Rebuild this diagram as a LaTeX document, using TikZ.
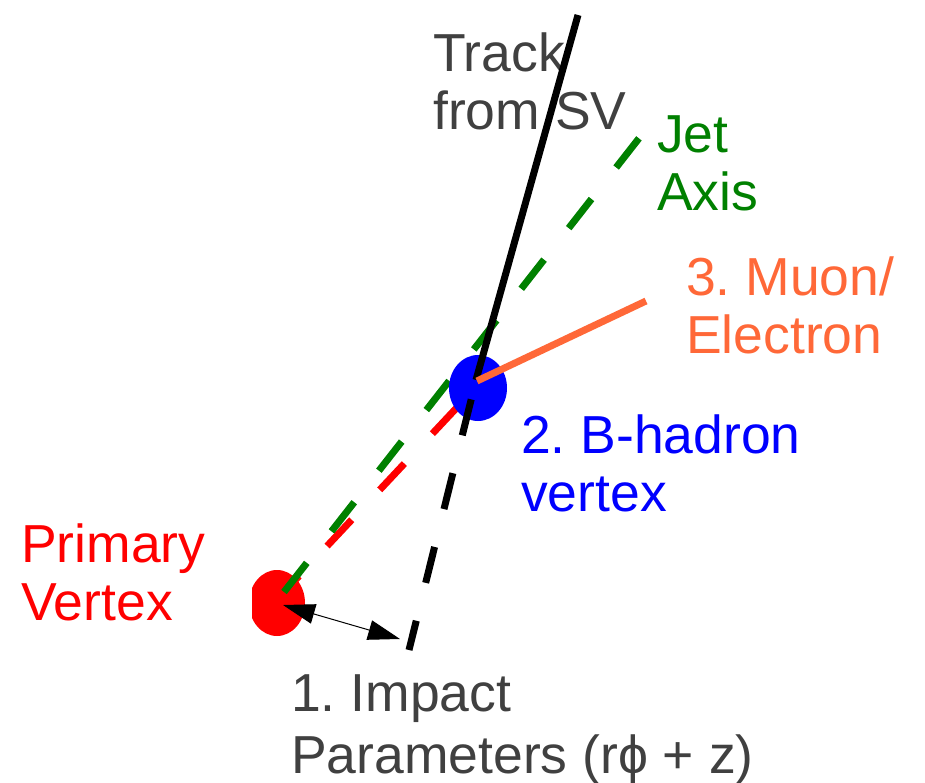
\documentclass[tikz,border=0pt]{standalone}
\usepackage{fontspec}
\setmainfont{Liberation Sans}
\frenchspacing
\usetikzlibrary{arrows.meta,shapes.geometric}
\definecolor{txtgray}{RGB}{64,64,64}
\definecolor{jetgreen}{RGB}{0,128,0}
\definecolor{muonorange}{RGB}{255,104,56}
\newcommand{\twolines}[3][58pt]{\vtop{\baselineskip=#1\hbox{#2}\hbox{#3}}}
\begin{document}
\begin{tikzpicture}[x=1pt,y=-1pt,
  lbl/.style={anchor=base west, inner sep=0pt, font=\fontsize{53.5}{58}\selectfont},
  thick7/.style={line width=7pt},
  dotstyle/.style={ellipse, inner sep=0pt}]
\useasboundingbox (0,0) rectangle (925,783);
% labels
\node[lbl, txtgray] (trk) at (433,72) {\twolines{Track}{from SV}};
\node[lbl, jetgreen] (jet) at (657,153) {\twolines{Jet}{Axis}};
\node[lbl, muonorange] (mu) at (686,295) {\twolines{3. Muon/}{Electron}};
\node[lbl, blue] (bh) at (521,453) {\twolines{2. B-hadron}{vertex}};
\node[lbl, red] (pvl) at (21,562) {\twolines{Primary}{Vertex}};
\node[lbl, txtgray] (ipl) at (291,711) {\twolines[62pt]{1. Impact}{Parameters (rϕ + z)}};
% coordinates
\coordinate (pvc) at (284,592);
\coordinate (bvc) at (478,385);
\coordinate (jetend) at (640,137);
\coordinate (trktop) at (578,15);
\coordinate (trkmid) at (476,380);
\coordinate (trkbot) at (409,650);
\coordinate (muon0) at (477,381);
\coordinate (muend) at (646,301);
\coordinate (iptipA) at (283,605);
\coordinate (iptipB) at (400,639);
% primary vertex (clipped on the left)
\begin{scope}
\clip (252,0) rectangle (925,783);
\node[dotstyle, fill=red, minimum width=56pt, minimum height=66pt] (pv) at (277,603) {};
\end{scope}
% lines
\draw[red, thick7, dash pattern=on 36pt off 41pt, dash phase=14pt] (pvc) -- (bvc);
\draw[jetgreen, thick7, dash pattern=on 37pt off 40pt] (pvc) -- (jetend);
\node[dotstyle, fill=blue, minimum width=58pt, minimum height=66pt] (bv) at (478,388) {};
\draw[black, thick7] (trktop) -- (trkmid);
\draw[black, thick7, dash pattern=on 37pt off 39pt, dash phase=56pt] (trkmid) -- (trkbot);
\draw[muonorange, thick7] (muon0) -- (muend);
\draw[{Triangle[length=32pt,width=20pt]}-{Triangle[length=32pt,width=20pt]}, line width=1pt] (iptipA) -- (iptipB);
\end{tikzpicture}
\end{document}
